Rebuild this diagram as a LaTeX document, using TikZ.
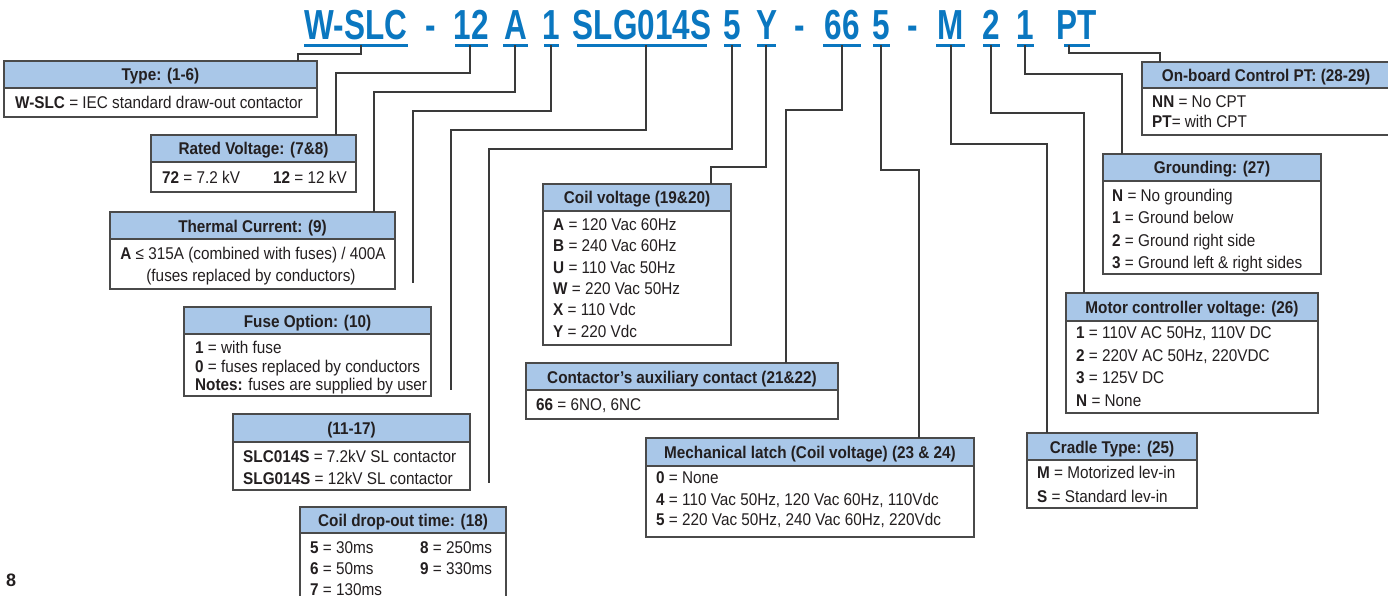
\documentclass[tikz,border=0pt]{standalone}
\usepackage{fontspec}
\setmainfont{Liberation Sans}[FakeStretch=0.9]
\newfontfamily\codefont{Liberation Sans}[FakeStretch=0.75]
\newfontfamily\pagefont{Liberation Sans}
\usetikzlibrary{fit}
\definecolor{codeblue}{HTML}{0A77C0}
\definecolor{hdrblue}{HTML}{A9C7E8}
\definecolor{framegray}{HTML}{4A4A4A}
\definecolor{linegray}{HTML}{3A3A3A}
\definecolor{txt}{HTML}{231F20}
\tikzset{
  boxframe/.style={draw=framegray, line width=1.2pt, fill=white, inner sep=0pt},
  hdrband/.style={draw=framegray, line width=1.2pt, fill=hdrblue},
  ttl/.style={font=\bfseries\fontsize{17}{20}\selectfont, text=txt, anchor=base, inner sep=0pt},
  bodytxt/.style={font=\fontsize{17}{21}\selectfont, text=txt, anchor=base west, inner sep=0pt},
  segtxt/.style={font=\codefont\bfseries\fontsize{42}{46}\selectfont, text=codeblue, anchor=base, inner sep=0pt},
  segline/.style={draw=codeblue, line width=3pt},
  conn/.style={draw=linegray, line width=1.2pt},
}
\newcommand\codebox[7]{%
  \node[boxframe, fit={(#2,#3) (#4,#5)}] (#1) {};
  \draw[hdrband] (#2,#3) rectangle (#4,#6);
  \node[ttl] (#1t) at ({(#2+#4)/2},{(#3+#6)/2+6.5}) {#7};}
\newcommand\codeseg[4]{%
  \node[segtxt] (#1) at ({(#3+#4)/2},40) {#2};
  \draw[segline] (#3,45.5) -- (#4,45.5);}
\begin{document}
\begin{tikzpicture}[x=1pt,y=-1pt]
\useasboundingbox (0,0) rectangle (1388,596);
\fill[white] (0,0) rectangle (1388,596);

% ---- code header ----
\codeseg{sW}{W-SLC}{304}{408}
\node[segtxt] (d1) at (431,40) {-};
\codeseg{s12}{12}{455}{488}
\codeseg{sA}{A}{503}{528}
\codeseg{s1}{1}{544}{559}
\codeseg{sS}{SLG014S}{577}{707}
\codeseg{s5}{5}{724}{741}
\codeseg{sY}{Y}{757}{776}
\node[segtxt] (d2) at (800,40) {-};
\codeseg{s66}{66}{823}{861}
\codeseg{s5b}{5}{873}{890}
\node[segtxt] (d3) at (913,40) {-};
\codeseg{sM}{M}{936}{965}
\codeseg{s2}{2}{983}{1000}
\codeseg{s1b}{1}{1017}{1034}
\codeseg{sPT}{PT}{1064}{1090}

% tick points on the underlines
\coordinate (tW) at (361,45);
\coordinate (t12) at (470,45);
\coordinate (tA) at (515,45);
\coordinate (t1) at (551,45);
\coordinate (tS) at (646,45);
\coordinate (t5) at (732,45);
\coordinate (tY) at (766,45);
\coordinate (t66) at (842,45);
\coordinate (t5b) at (881,45);
\coordinate (tM) at (951,45);
\coordinate (t2) at (991,45);
\coordinate (t1b) at (1025,45);
\coordinate (tPT) at (1069,45);

% ---- boxes ----
\codebox{type}{4}{61}{317}{117}{88}{Type: (1-6)}
\node[bodytxt] (type1) at (15,109) {\textbf{W-SLC} = IEC standard draw-out contactor};

\codebox{rated}{151}{135}{356}{192}{162}{Rated Voltage: (7\&8)}
\node[bodytxt] (rated1) at (162,183) {\textbf{72} = 7.2 kV};
\node[bodytxt] (rated2) at (273,183) {\textbf{12} = 12 kV};

\codebox{therm}{110}{212}{395}{289}{239}{Thermal Current: (9)}
\node[bodytxt, anchor=base] (therm1) at (253,259) {\textbf{A} ≤ 315A (combined with fuses) / 400A};
\node[bodytxt, anchor=base] (therm2) at (251,281) {(fuses replaced by conductors)};

\codebox{fuse}{184}{307}{431}{396}{334}{Fuse Option: (10)}
\node[bodytxt] (fuse1) at (195,353) {\textbf{1} = with fuse};
\node[bodytxt] (fuse2) at (195,372) {\textbf{0} = fuses replaced by conductors};
\node[bodytxt] (fuse3) at (195,390) {\textbf{Notes:} fuses are supplied by user};

\codebox{slc}{233}{414}{470}{490}{442}{(11-17)}
\node[bodytxt] (slc1) at (243,462) {\textbf{SLC014S} = 7.2kV SL contactor};
\node[bodytxt] (slc2) at (243,484) {\textbf{SLG014S} = 12kV SL contactor};

\codebox{drop}{300}{507}{506}{612}{533}{Coil drop-out time: (18)}
\node[bodytxt] (drop1) at (310,553) {\textbf{5} = 30ms};
\node[bodytxt] (drop2) at (310,574) {\textbf{6} = 50ms};
\node[bodytxt] (drop3) at (310,595) {\textbf{7} = 130ms};
\node[bodytxt] (drop4) at (420,553) {\textbf{8} = 250ms};
\node[bodytxt] (drop5) at (420,574) {\textbf{9} = 330ms};

\codebox{coil}{543}{184}{731}{345}{211}{Coil voltage (19\&20)}
\node[bodytxt] (coil1) at (553,230) {\textbf{A} = 120 Vac 60Hz};
\node[bodytxt] (coil2) at (553,251) {\textbf{B} = 240 Vac 60Hz};
\node[bodytxt] (coil3) at (553,273) {\textbf{U} = 110 Vac 50Hz};
\node[bodytxt] (coil4) at (553,294) {\textbf{W} = 220 Vac 50Hz};
\node[bodytxt] (coil5) at (553,315) {\textbf{X} = 110 Vdc};
\node[bodytxt] (coil6) at (553,337) {\textbf{Y} = 220 Vdc};

\codebox{aux}{526}{363}{838}{419}{390}{Contactor’s auxiliary contact (21\&22)}
\node[bodytxt] (aux1) at (536,410) {\textbf{66} = 6NO, 6NC};

\codebox{mech}{646}{438}{974}{537}{466}{Mechanical latch (Coil voltage) (23 \& 24)}
\node[bodytxt] (mech1) at (656,483) {\textbf{0} = None};
\node[bodytxt] (mech2) at (656,505) {\textbf{4} = 110 Vac 50Hz, 120 Vac 60Hz, 110Vdc};
\node[bodytxt] (mech3) at (656,525) {\textbf{5} = 220 Vac 50Hz, 240 Vac 60Hz, 220Vdc};

\codebox{cradle}{1027}{433}{1197}{508}{460}{Cradle Type: (25)}
\node[bodytxt] (cradle1) at (1037,478) {\textbf{M} = Motorized lev-in};
\node[bodytxt] (cradle2) at (1037,502) {\textbf{S} = Standard lev-in};

\codebox{motor}{1066}{293}{1318}{413}{321}{Motor controller voltage: (26)}
\node[bodytxt] (motor1) at (1076,338) {\textbf{1} = 110V AC 50Hz, 110V DC};
\node[bodytxt] (motor2) at (1076,361) {\textbf{2} = 220V AC 50Hz, 220VDC};
\node[bodytxt] (motor3) at (1076,383) {\textbf{3} = 125V DC};
\node[bodytxt] (motor4) at (1076,406) {\textbf{N} = None};

\codebox{ground}{1103}{154}{1321}{274}{181}{Grounding: (27)}
\node[bodytxt] (ground1) at (1112,201) {\textbf{N} = No grounding};
\node[bodytxt] (ground2) at (1112,223) {\textbf{1} = Ground below};
\node[bodytxt] (ground3) at (1112,246) {\textbf{2} = Ground right side};
\node[bodytxt] (ground4) at (1112,268) {\textbf{3} = Ground left \& right sides};

\codebox{onboard}{1142}{62}{1390}{135}{88}{On-board Control PT: (28-29)}
\node[bodytxt] (onboard1) at (1152,108) {\textbf{NN} = No CPT};
\node[bodytxt] (onboard2) at (1152,128) {\textbf{PT}= with CPT};

% ---- connector end points ----
\coordinate (inType) at (298,61);
\coordinate (inRated) at (336,135);
\coordinate (inTherm) at (374,212);
\coordinate (endFuse) at (413,283);
\coordinate (endSlc) at (451,390);
\coordinate (endDrop) at (489,483);
\coordinate (inCoil) at (711,184);
\coordinate (inAux) at (786,363);
\coordinate (inMech) at (919,438);
\coordinate (inCradle) at (1047,433);
\coordinate (inMotor) at (1084,293);
\coordinate (inGround) at (1122,154);
\coordinate (inPT) at (1160,62);

% ---- connectors ----
\draw[conn] (tW) -- ++(0,9) -| (inType);
\draw[conn] (t12) -- ++(0,28) -| (inRated);
\draw[conn] (tA) -- ++(0,47) -| (inTherm);
\draw[conn] (t1) -- ++(0,66) -| (endFuse);
\draw[conn] (tS) -- ++(0,85) -| (endSlc);
\draw[conn] (t5) -- ++(0,104) -| (endDrop);
\draw[conn] (tY) -- ++(0,122) -| (inCoil);
\draw[conn] (t66) -- ++(0,65) -| (inAux);
\draw[conn] (t5b) -- ++(0,125) -| (inMech);
\draw[conn] (tM) -- ++(0,99) -| (inCradle);
\draw[conn] (t2) -- ++(0,68) -| (inMotor);
\draw[conn] (t1b) -- ++(0,29) -| (inGround);
\draw[conn] (tPT) -- ++(0,8) -| (inPT);

% page number
\node[font=\pagefont\bfseries\fontsize{18}{20}\selectfont, text=txt, anchor=base west, inner sep=0pt] (pageno) at (6,586) {8};
\end{tikzpicture}
\end{document}
